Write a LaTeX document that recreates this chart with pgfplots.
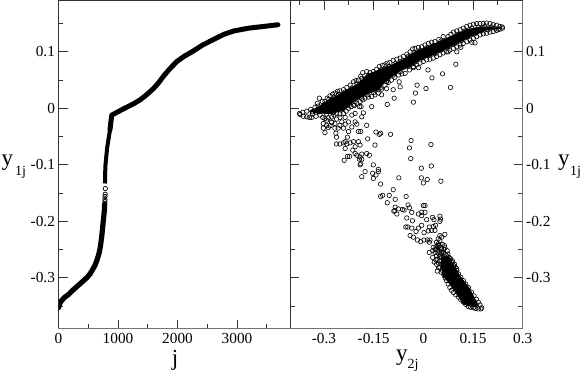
\documentclass[border=0pt]{standalone}
\usepackage{fontspec}
\setmainfont{Liberation Serif}
\usepackage{pgfplots}
\pgfplotsset{compat=1.18}
\definecolor{framegray}{gray}{0.2}
\definecolor{edgegray}{gray}{0.45}
\pgfplotsset{
  panel/.style={
    scale only axis,
    height=327.7pt,
    axis line style={framegray, line width=1pt},
    tick style={framegray, line width=0.9pt},
    tick align=inside,
    major tick length=9pt,
    minor tick length=4.5pt,
    ymin=-0.39, ymax=0.19,
    ytick={-0.3,-0.2,-0.1,0,0.1},
    minor ytick={-0.35,-0.25,-0.15,-0.05,0.05,0.15},
    tick label style={font=\fontsize{15.3}{17}\selectfont},
    xticklabel style={yshift=-1pt},
  },
}
\begin{document}
\begin{tikzpicture}
\path[use as bounding box] (0,0) rectangle (581pt,374pt);

% left panel: y1j against rank j
\begin{axis}[panel,
  at={(58.5pt,45.3pt)}, anchor=south west,
  width=231.5pt,
  xmin=0, xmax=3890,
  xtick={0,1000,2000,3000},
  xticklabels={0,1000,2000,3000},
  minor xtick={500,1500,2500,3500},
  yticklabels={-0.3,-0.2,-0.1,0,0.1},
  xtick pos=lower, ytick pos=left,
]
\addplot[black, line width=5.2pt, line cap=round, line join=round] coordinates {
  (0,-0.353) (15,-0.347) (40,-0.342) (79,-0.337) (120,-0.333) (163,-0.330) (230,-0.323) (303,-0.316)
  (400,-0.307) (483,-0.299) (530,-0.293) (575,-0.285) (613,-0.278) (652,-0.267) (680,-0.257) (697,-0.249)
  (712,-0.238) (725,-0.228) (737,-0.216) (747,-0.205) (760,-0.192) (770,-0.181) (776,-0.169)
};
\addplot[black, line width=4pt, line cap=butt, line join=round] coordinates {
  (781,-0.133) (787,-0.103) (803,-0.085) (820,-0.068) (843,-0.053) (865,-0.038)
};
\addplot[black, line width=5pt, line cap=round, line join=round] coordinates {
  (865,-0.038) (880,-0.024) (895,-0.012) (930,-0.010)
  (1000,-0.006) (1146,0.002) (1260,0.008) (1371,0.015) (1480,0.024) (1596,0.035)
  (1680,0.045) (1765,0.057) (1870,0.070) (1990,0.083) (2110,0.092) (2242,0.100)
  (2420,0.112) (2608,0.122) (2780,0.131) (2945,0.137) (3200,0.142) (3450,0.145) (3687,0.148)
};
\addplot[only marks, mark=o, mark size=2.2pt, line width=0.7pt, mark options={draw=black, fill=white}] coordinates {
  (787,-0.142) (784,-0.152) (782,-0.156) (781,-0.161) (780,-0.165)
};
\end{axis}

% right panel: y1j against y2j
\begin{axis}[panel,
  at={(290pt,45.3pt)}, anchor=south west,
  width=232.7pt,
  xmin=-0.4026, xmax=0.3,
  xtick={-0.3,-0.15,0,0.15,0.3},
  xticklabels={-0.3,-0.15,0,0.15,0.3},
  minor xtick={-0.375,-0.225,-0.075,0.075,0.225},
  yticklabels={-0.3,-0.2,-0.1,0,0.1},
  xtick pos=upper, xticklabel pos=lower,
  ytick pos=both, yticklabel pos=right,
]
% dense upper band
\addplot[fill=black, draw=none] coordinates {
  (-0.345,-0.005) (-0.327,0.000) (-0.305,0.008) (-0.282,0.017) (-0.252,0.026) (-0.221,0.036)
  (-0.196,0.045) (-0.171,0.060) (-0.133,0.069) (-0.101,0.076) (-0.060,0.087) (-0.025,0.101)
  (0.015,0.110) (0.060,0.122) (0.091,0.130) (0.131,0.140) (0.171,0.145) (0.201,0.145)
  (0.230,0.142) (0.191,0.138) (0.151,0.129) (0.111,0.117) (0.070,0.105) (0.030,0.094)
  (-0.010,0.085) (-0.042,0.073) (-0.075,0.064) (-0.116,0.046) (-0.136,0.032) (-0.176,0.023)
  (-0.211,0.011) (-0.241,-0.004) (-0.277,-0.010) (-0.324,-0.009)
} -- cycle;
% dense lower band
\addplot[fill=black, draw=none] coordinates {
  (0.055,-0.262) (0.075,-0.262) (0.090,-0.274) (0.111,-0.296) (0.141,-0.319) (0.168,-0.350)
  (0.150,-0.352) (0.120,-0.347) (0.090,-0.320) (0.060,-0.297) (0.052,-0.280)
} -- cycle;
\addplot[only marks, mark=o, mark size=2.25pt, line width=0.6pt, mark options={draw=black, fill=none}] coordinates {
  % upper edge of the band
  (-0.374,-0.009) (-0.364,-0.007) (-0.352,-0.005) (-0.340,-0.002) (-0.327,0.002) (-0.320,0.009)
  (-0.314,0.018) (-0.305,0.012) (-0.297,0.012) (-0.290,0.018) (-0.282,0.022) (-0.274,0.025)
  (-0.267,0.027) (-0.259,0.030) (-0.252,0.031) (-0.241,0.033) (-0.231,0.037) (-0.221,0.041)
  (-0.211,0.047) (-0.203,0.049) (-0.196,0.050) (-0.189,0.057) (-0.183,0.063) (-0.171,0.065)
  (-0.161,0.063) (-0.151,0.065) (-0.141,0.069) (-0.133,0.074) (-0.123,0.076) (-0.116,0.077)
  (-0.109,0.080) (-0.101,0.081) (-0.091,0.085) (-0.080,0.087) (-0.070,0.089) (-0.060,0.092)
  (-0.050,0.096) (-0.040,0.100) (-0.032,0.105) (-0.025,0.106) (-0.015,0.108) (-0.005,0.109)
  (0.005,0.112) (0.015,0.115) (0.025,0.117) (0.035,0.118) (0.047,0.122) (0.060,0.127)
  (0.075,0.127) (0.083,0.131) (0.091,0.135) (0.101,0.137) (0.111,0.139) (0.121,0.142)
  (0.131,0.145) (0.141,0.147) (0.151,0.149) (0.161,0.150) (0.171,0.150) (0.181,0.150)
  (0.191,0.151) (0.201,0.150) (0.211,0.148) (0.221,0.147) (0.231,0.145) (0.238,0.144)
  % lower edge of the band
  (-0.372,-0.011) (-0.362,-0.014) (-0.352,-0.015) (-0.344,-0.016) (-0.337,-0.016) (-0.324,-0.014)
  (-0.312,-0.012) (-0.304,-0.016) (-0.297,-0.018) (-0.287,-0.017) (-0.277,-0.015) (-0.270,-0.012)
  (-0.262,-0.009) (-0.252,-0.010) (-0.241,-0.009) (-0.233,-0.005) (-0.226,0.000) (-0.218,0.003)
  (-0.211,0.006) (-0.201,0.009) (-0.191,0.012) (-0.183,0.015) (-0.176,0.018) (-0.166,0.020)
  (-0.156,0.021) (-0.146,0.024) (-0.136,0.027) (-0.126,0.034) (-0.116,0.041) (-0.106,0.046)
  (-0.096,0.050) (-0.086,0.055) (-0.075,0.059) (-0.065,0.061) (-0.055,0.062) (-0.042,0.068)
  (-0.030,0.074) (-0.020,0.077) (-0.010,0.080) (0.000,0.083) (0.010,0.086) (0.020,0.087)
  (0.030,0.089) (0.040,0.092) (0.050,0.095) (0.060,0.098) (0.070,0.100) (0.080,0.103)
  (0.091,0.106) (0.101,0.109) (0.111,0.112) (0.121,0.115) (0.131,0.118) (0.141,0.121)
  (0.151,0.124) (0.161,0.127) (0.171,0.130) (0.181,0.132) (0.191,0.133) (0.201,0.135)
  (0.211,0.136) (0.221,0.138) (0.231,0.140) (0.239,0.142)
  % second row inside the top edge
  (-0.335,-0.006) (-0.318,0.004) (-0.300,0.006) (-0.285,0.016) (-0.270,0.020) (-0.255,0.025)
  (-0.236,0.029) (-0.216,0.036) (-0.200,0.043) (-0.186,0.053) (-0.165,0.058) (-0.146,0.060)
  (-0.128,0.068) (-0.105,0.074) (-0.085,0.079) (-0.065,0.084) (-0.045,0.092) (-0.028,0.099)
  (-0.010,0.102) (0.010,0.107) (0.030,0.111) (0.053,0.119) (0.079,0.122) (0.105,0.131)
  (0.126,0.137) (0.146,0.142) (0.166,0.144) (0.186,0.145) (0.206,0.144) (0.226,0.140)
  % second row inside the bottom edge
  (-0.335,-0.010) (-0.315,-0.006) (-0.292,-0.010) (-0.272,-0.007) (-0.247,-0.003) (-0.228,0.005)
  (-0.206,0.012) (-0.186,0.018) (-0.170,0.024) (-0.150,0.028) (-0.130,0.036) (-0.110,0.050)
  (-0.090,0.059) (-0.070,0.065) (-0.045,0.074) (-0.025,0.082) (-0.005,0.089) (0.015,0.093)
  (0.035,0.097) (0.055,0.104) (0.075,0.109) (0.095,0.115) (0.115,0.120) (0.135,0.127)
  (0.155,0.132) (0.175,0.137) (0.195,0.139) (0.215,0.142)
  % scatter below the band, left branch
  (-0.292,-0.021) (-0.277,-0.024) (-0.262,-0.019) (-0.252,-0.016) (-0.236,-0.016) (-0.216,-0.012)
  (-0.206,-0.009) (-0.186,-0.015) (-0.226,-0.024) (-0.267,-0.027) (-0.282,-0.031) (-0.302,-0.027)
  (-0.302,-0.035) (-0.297,-0.043) (-0.292,-0.030) (-0.287,-0.034) (-0.277,-0.025) (-0.267,-0.035)
  (-0.264,-0.044) (-0.262,-0.051) (-0.257,-0.035) (-0.252,-0.030) (-0.246,-0.024) (-0.241,-0.035)
  (-0.236,-0.028) (-0.226,-0.041) (-0.229,-0.051) (-0.216,-0.033) (-0.206,-0.024) (-0.201,-0.028)
  (-0.196,-0.041) (-0.189,-0.041) (-0.171,-0.030) (-0.168,-0.054) (-0.143,-0.042) (-0.133,-0.046)
  (-0.129,-0.044) (-0.099,-0.046) (-0.262,-0.063) (-0.252,-0.063) (-0.241,-0.061) (-0.236,-0.059)
  (-0.231,-0.063) (-0.236,-0.071) (-0.221,-0.061) (-0.211,-0.059) (-0.196,-0.059) (-0.191,-0.065)
  (-0.206,-0.068) (-0.213,-0.074) (-0.206,-0.080) (-0.201,-0.083) (-0.191,-0.086) (-0.186,-0.081)
  (-0.171,-0.080) (-0.163,-0.083) (-0.239,-0.092) (-0.229,-0.085) (-0.223,-0.085) (-0.193,-0.090)
  (-0.189,-0.098) (-0.191,-0.100) (-0.186,-0.090) (-0.151,-0.100) (-0.146,-0.065) (-0.186,-0.121)
  (-0.176,-0.112) (-0.153,-0.115) (-0.151,-0.124) (-0.143,-0.118) (-0.136,-0.112) (-0.136,-0.108)
  (-0.129,-0.134) (-0.074,-0.123) (-0.006,-0.106) (0.024,-0.102) (-0.006,-0.123) (0.012,-0.126)
  (0.000,-0.132) (0.053,-0.129) (-0.038,-0.089) (-0.042,-0.070) (-0.037,-0.057) (0.023,-0.064)
  % scatter just under the band
  (-0.156,0.003) (-0.188,0.003) (-0.208,0.005) (-0.181,-0.008) (-0.193,0.003) (-0.109,0.007)
  (-0.088,0.018) (-0.030,0.011) (-0.024,0.027) (-0.019,0.041) (0.008,0.035) (0.026,0.054)
  (0.058,0.061) (0.082,0.037) (0.014,0.068) (0.098,0.078) (-0.091,0.033) (-0.070,0.038)
  (-0.073,0.047) (-0.111,0.047) (-0.111,0.035) (-0.126,0.024) (-0.136,0.033) (-0.030,0.072)
  (-0.015,0.072) (0.075,0.100) (0.113,0.108) (0.101,0.100) (0.146,0.117) (0.156,0.116)
  % scatter, right branch going down
  (-0.129,-0.156) (-0.123,-0.154) (-0.103,-0.154) (-0.091,-0.144) (-0.052,-0.156) (-0.085,-0.161)
  (-0.109,-0.167) (-0.046,-0.171) (-0.042,-0.176) (-0.085,-0.175) (-0.075,-0.178) (-0.063,-0.179)
  (-0.058,-0.180) (-0.086,-0.181) (-0.080,-0.187) (-0.089,-0.182) (-0.035,-0.184) (-0.015,-0.187)
  (-0.005,-0.184) (0.005,-0.184) (-0.005,-0.190) (0.000,-0.172) (0.005,-0.172) (-0.050,-0.194)
  (-0.033,-0.199) (0.010,-0.197) (0.028,-0.193) (0.032,-0.197) (0.050,-0.191) (0.052,-0.196)
  (0.050,-0.200) (0.037,-0.207) (0.030,-0.209) (0.018,-0.210) (-0.005,-0.207) (-0.015,-0.212)
  (-0.053,-0.210) (-0.047,-0.210) (-0.035,-0.212) (-0.022,-0.218) (0.002,-0.220) (0.015,-0.217)
  (0.025,-0.216) (0.035,-0.216) (-0.040,-0.225) (-0.030,-0.228) (-0.018,-0.233) (-0.008,-0.236)
  (0.002,-0.233) (0.012,-0.233) (0.020,-0.233) (0.018,-0.237) (0.065,-0.223) (0.050,-0.225)
  (0.045,-0.231) (0.040,-0.237) (0.055,-0.228) (0.050,-0.234) (0.045,-0.240)
  % funnel above the lower band
  (0.030,-0.246) (0.038,-0.245) (0.045,-0.246) (0.065,-0.247) (0.028,-0.252) (0.018,-0.255)
  (0.035,-0.255) (0.050,-0.255) (0.072,-0.252) (0.028,-0.264) (0.040,-0.261) (0.055,-0.264)
  (0.070,-0.261) (0.078,-0.264) (0.040,-0.276) (0.050,-0.270) (0.065,-0.273) (0.085,-0.272)
  (0.042,-0.288) (0.050,-0.281) (0.058,-0.287) (0.101,-0.284) (0.063,-0.296) (0.091,-0.278)
  (0.075,-0.267) (0.045,-0.251) (0.055,-0.249) (0.060,-0.255) (0.060,-0.267) (0.070,-0.278)
  (0.042,-0.267) (0.033,-0.272) (0.048,-0.243) (0.058,-0.241) (0.052,-0.259) (0.066,-0.258)
  (0.044,-0.256) (0.048,-0.263) (0.038,-0.268) (0.046,-0.274) (0.054,-0.276) (0.036,-0.250)
  (0.062,-0.250) (0.068,-0.265) (0.074,-0.258) (0.082,-0.266) (0.088,-0.270) (0.094,-0.276)
  (0.056,-0.255) (0.064,-0.243) (0.052,-0.247) (0.042,-0.243) (0.046,-0.282) (0.054,-0.290)
  % edges of the lower band
  (0.062,-0.294) (0.070,-0.305) (0.080,-0.317) (0.091,-0.326) (0.106,-0.334) (0.121,-0.343)
  (0.136,-0.351) (0.151,-0.353) (0.166,-0.355) (0.174,-0.355) (0.176,-0.353) (0.166,-0.343)
  (0.153,-0.332) (0.136,-0.317) (0.121,-0.305) (0.106,-0.293) (0.096,-0.281) (0.080,-0.269)
  (0.066,-0.300) (0.075,-0.311) (0.085,-0.322) (0.098,-0.330) (0.113,-0.339) (0.128,-0.347)
  (0.143,-0.352) (0.158,-0.354) (0.171,-0.348) (0.160,-0.338) (0.145,-0.325) (0.128,-0.311)
  (0.113,-0.299) (0.101,-0.287)
};
\end{axis}

% the outer bottom and right spines are lighter in the original
\draw[edgegray, line width=1.3pt] (58pt,45.3pt) -- (522.7pt,45.3pt) -- (522.7pt,373pt);

% axis titles placed by hand: two size levels as in the original
\node[anchor=base west, inner sep=0pt, font=\fontsize{23}{25}\selectfont] at (1.5pt,208.3pt) {y};
\node[anchor=base west, inner sep=0pt, font=\fontsize{14}{16}\selectfont] at (15pt,198.3pt) {1j};
\node[anchor=base west, inner sep=0pt, font=\fontsize{23}{25}\selectfont] at (558pt,208.3pt) {y};
\node[anchor=base west, inner sep=0pt, font=\fontsize{14}{16}\selectfont] at (570pt,198.3pt) {1j};
\node[anchor=base, inner sep=0pt, font=\fontsize{23}{25}\selectfont] at (175pt,8.3pt) {j};
\node[anchor=base west, inner sep=0pt, font=\fontsize{23}{25}\selectfont] at (396pt,13.3pt) {y};
\node[anchor=base west, inner sep=0pt, font=\fontsize{14}{16}\selectfont] at (407.5pt,5.3pt) {2j};
\end{tikzpicture}
\end{document}
